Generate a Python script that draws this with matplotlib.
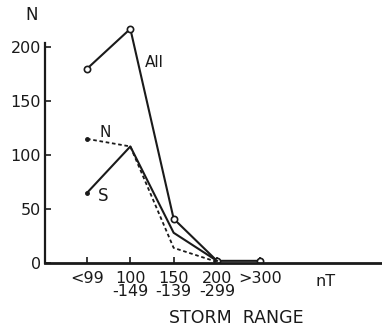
import matplotlib.pyplot as plt
import numpy as np

categories = ['<99', '100\n-149', '150\n-139', '200\n-299', '>300']
all_vals = [180, 217, 41, 2, 2]
n_vals = [115, 108, 14, 1]
s_vals = [65, 108, 28, 2]

x = np.arange(len(categories))
ink = '#1a1a1a'

fig = plt.figure(figsize=(3.82, 3.33), dpi=100)
ax = fig.add_axes([45 / 382, 70 / 333, 1 - 45 / 382, 259 / 333])

ax.plot(x, all_vals, color=ink, lw=1.5, marker='o', ms=4.5, mfc='white', mec=ink, mew=1.2)
ax.plot(x[:len(s_vals)], s_vals, color=ink, lw=1.5)
ax.plot(x[0], s_vals[0], 'o', color=ink, ms=2.5)
ax.plot(x[:len(n_vals)], n_vals, color=ink, lw=1.3, ls=(0, (2, 1.5)))
ax.plot(x[0], n_vals[0], 'o', color=ink, ms=2.5)

ax.text(1.34, 186, 'All', fontsize=11, color=ink, va='center')
ax.text(0.42, 121, 'N', fontsize=11, color=ink, ha='center', va='center')
ax.text(0.37, 62, 'S', fontsize=12, color=ink, ha='center', va='center')
ax.text(5.5, -17, 'nT', fontsize=11.5, color=ink, ha='center', va='center')

ax.set_xlim(-0.97, 6.81)
ax.set_ylim(0, 240)
ax.set_xticks(x)
ax.set_xticklabels(categories, fontsize=11.5, linespacing=0.8)
ax.set_yticks([0, 50, 100, 150, 200])
ax.tick_params(axis='both', direction='in', length=4, width=1.2, colors=ink, labelsize=11.5, pad=3)
ax.tick_params(axis='x', pad=6)

for side in ['top', 'right']:
    ax.spines[side].set_visible(False)
ax.spines['left'].set_bounds(0, 204)
ax.spines['left'].set_linewidth(1.6)
ax.spines['bottom'].set_linewidth(2)
ax.spines['left'].set_color(ink)
ax.spines['bottom'].set_color(ink)

fig.text(32 / 382, 1 - 15 / 333, 'N', fontsize=12, ha='center', va='center', color=ink)
fig.text(236 / 382, 1 - 318 / 333, 'STORM  RANGE', fontsize=12.5, ha='center', va='center', color=ink)

fig.savefig('out.png', dpi=100)
